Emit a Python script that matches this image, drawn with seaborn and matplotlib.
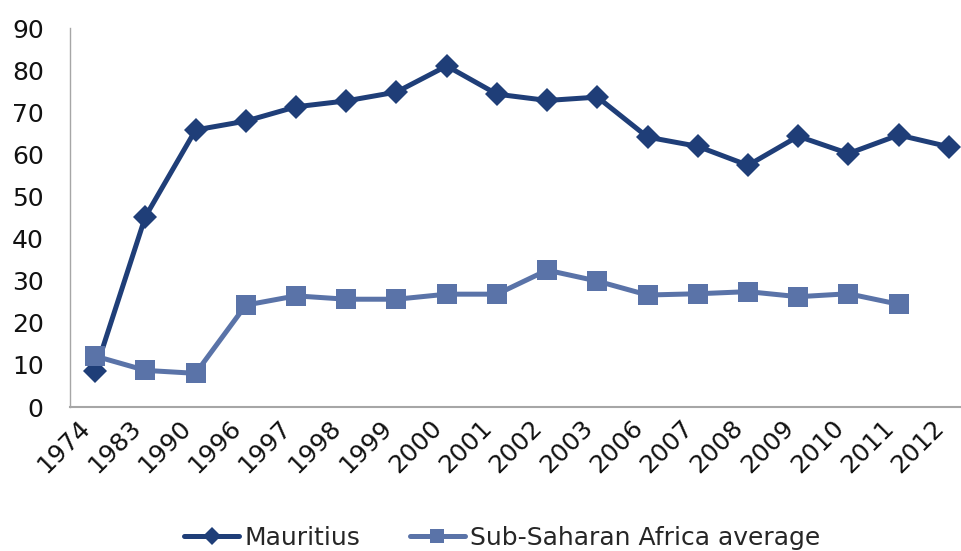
import numpy as np
import pandas as pd
import matplotlib.pyplot as plt
import seaborn as sns

# --- data ---
years = ['1974', '1983', '1990', '1996', '1997', '1998', '1999', '2000', '2001',
         '2002', '2003', '2006', '2007', '2008', '2009', '2010', '2011', '2012']
mauritius = [8.5, 45.2, 65.8, 67.9, 71.3, 72.7, 74.8, 81.0, 74.3,
             72.8, 73.6, 64.1, 61.9, 57.4, 64.3, 60.2, 64.6, 61.8]
ssa_avg = [12.1, 8.7, 8.0, 24.2, 26.4, 25.6, 25.6, 26.8, 26.8,
           32.5, 29.9, 26.6, 26.9, 27.4, 26.2, 26.9, 24.4, np.nan]

df = pd.DataFrame({'year': years, 'Mauritius': mauritius,
                   'Sub-Saharan Africa average': ssa_avg})
df['pos'] = np.arange(len(df))

sns.set_style('white')
plt.rcParams['font.family'] = ['DejaVu Sans']

dark = '#1f3e78'
light = '#5a73a8'

fig = plt.figure(figsize=(9.62, 5.51), dpi=100)
ax = fig.add_axes([0.0728, 0.2613, 0.9397, 0.6878])

sns.lineplot(data=df, x='pos', y='Mauritius', ax=ax, color=dark, lw=3.6,
             marker='D', markersize=12.5, markeredgewidth=0, label='Mauritius')
sns.lineplot(data=df, x='pos', y='Sub-Saharan Africa average', ax=ax, color=light,
             lw=3.6, marker='s', markersize=15, markeredgewidth=0,
             label='Sub-Saharan Africa average')

ax.set_xlim(-0.5, len(years) - 0.5)
ax.set_ylim(0, 90)
ax.set_yticks(range(0, 91, 10))
ax.set_xticks(df['pos'])
ax.set_xticklabels(years, rotation=45, ha='right')
ax.set_xlabel('')
ax.set_ylabel('')
ax.tick_params(axis='y', length=0, pad=19, labelsize=18, labelcolor='#111111')
ax.tick_params(axis='x', length=0, pad=6, labelsize=18, labelcolor='#111111')

for side in ['top', 'right']:
    ax.spines[side].set_visible(False)
ax.spines['left'].set_color('#a6a6a6')
ax.spines['left'].set_linewidth(1)
ax.spines['bottom'].set_color('#a6a6a6')
ax.spines['bottom'].set_linewidth(1.5)

handles, labels = ax.get_legend_handles_labels()
ax.get_legend().remove()
fig.legend(handles, labels, loc='center', bbox_to_anchor=(0.522, 0.024),
           ncol=2, frameon=False, fontsize=18, handlelength=2.2,
           handletextpad=0.2, columnspacing=2.0, markerscale=0.7)

fig.savefig('out.png', dpi=100)
